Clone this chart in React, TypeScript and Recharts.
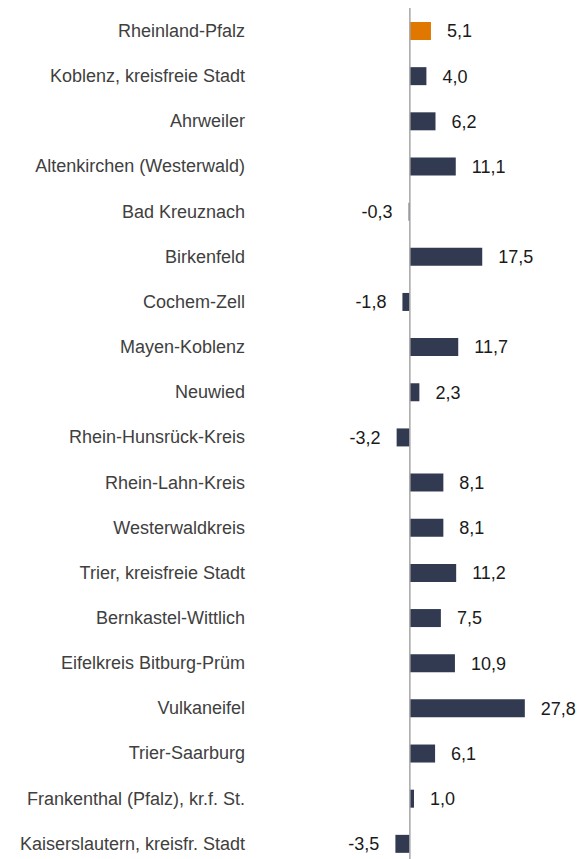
import React from 'react'
import {
  BarChart,
  Bar,
  XAxis,
  YAxis,
  Cell,
  LabelList,
  ReferenceLine,
} from 'recharts'

// Kreise / kreisfreie Städte, top to bottom
const regions = [
  'Rheinland-Pfalz',
  'Koblenz, kreisfreie Stadt',
  'Ahrweiler',
  'Altenkirchen (Westerwald)',
  'Bad Kreuznach',
  'Birkenfeld',
  'Cochem-Zell',
  'Mayen-Koblenz',
  'Neuwied',
  'Rhein-Hunsrück-Kreis',
  'Rhein-Lahn-Kreis',
  'Westerwaldkreis',
  'Trier, kreisfreie Stadt',
  'Bernkastel-Wittlich',
  'Eifelkreis Bitburg-Prüm',
  'Vulkaneifel',
  'Trier-Saarburg',
  'Frankenthal (Pfalz), kr.f. St.',
  'Kaiserslautern, kreisfr. Stadt',
]

const changes = [
  5.1, 4.0, 6.2, 11.1, -0.3, 17.5, -1.8, 11.7, 2.3, -3.2, 8.1, 8.1, 11.2, 7.5,
  10.9, 27.8, 6.1, 1.0, -3.5,
]

const highlighted = ['Rheinland-Pfalz']

const data = regions.map((name, i) => ({ name, value: changes[i] }))

const fmt = (v: number) => v.toFixed(1).replace('.', ',')

// value label: right of positive bars, left of negative ones
const ValueLabel = (props: any) => {
  const { x, y, width, height, value } = props
  const left = Math.min(x, x + width)
  const right = Math.max(x, x + width)
  const neg = value < 0
  return (
    <text
      x={neg ? left - 16 : right + 16}
      y={y + height / 2}
      dy="0.355em"
      textAnchor={neg ? 'end' : 'start'}
      fontSize={18}
      fontFamily="'Liberation Sans', Arial, sans-serif"
      fill="#1a1a1a"
    >
      {fmt(value)}
    </text>
  )
}

const App = () => {
  return (
    <div style={{ position: 'absolute', left: 0, top: 0, width: 580, height: 859, overflow: 'hidden' }}>
      <BarChart
        width={580}
        height={866}
        data={data}
        layout="vertical"
        margin={{ top: 8, right: 13, left: 0, bottom: 0 }}
        barSize={18}
      >
        <XAxis type="number" domain={[-36, 38]} hide />
        <YAxis
          type="category"
          dataKey="name"
          width={261}
          axisLine={false}
          tickLine={false}
          tickMargin={10}
          interval={0}
          tick={{
            fontSize: 18,
            fill: '#404040',
            fontFamily: "'Liberation Sans', Arial, sans-serif",
          }}
        />
        <Bar dataKey="value" isAnimationActive={false}>
          {data.map((d) => (
            <Cell
              key={d.name}
              fill={highlighted.includes(d.name) ? '#e07800' : '#313a50'}
            />
          ))}
          <LabelList dataKey="value" content={<ValueLabel />} />
        </Bar>
        <ReferenceLine x={0} stroke="#a6a6a6" strokeWidth={1.5} />
      </BarChart>
    </div>
  )
}

export default App
